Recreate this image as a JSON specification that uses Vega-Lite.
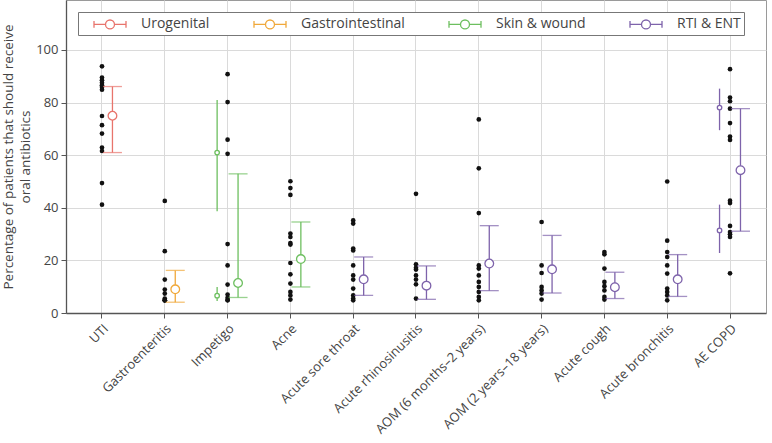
{
  "$schema": "https://vega.github.io/schema/vega-lite/v6.json",
  "width": 700,
  "height": 313,
  "padding": {"left": 1, "top": 0, "right": 2, "bottom": 0},
  "config": {
    "font": "Open Sans",
    "view": {"stroke": "#9a9a9a"},
    "axis": {
      "labelColor": "#444",
      "titleColor": "#444",
      "domainColor": "#555",
      "domainWidth": 1.3,
      "tickColor": "#555",
      "gridColor": "#dadada",
      "labelFontSize": 13,
      "titleFontSize": 13.5,
      "titleFontWeight": "normal"
    }
  },
  "datasets": {
    "dots": [
      {"condition": "UTI", "pct": 93.8}, {"condition": "UTI", "pct": 89.5}, {"condition": "UTI", "pct": 88.5}, {"condition": "UTI", "pct": 87.5}, {"condition": "UTI", "pct": 86.6}, {"condition": "UTI", "pct": 85.9}, {"condition": "UTI", "pct": 84.9}, {"condition": "UTI", "pct": 74.9}, {"condition": "UTI", "pct": 71.4}, {"condition": "UTI", "pct": 68.2}, {"condition": "UTI", "pct": 62.9}, {"condition": "UTI", "pct": 61.6}, {"condition": "UTI", "pct": 49.4}, {"condition": "UTI", "pct": 41.2},
      {"condition": "Gastroenteritis", "pct": 42.6}, {"condition": "Gastroenteritis", "pct": 23.5}, {"condition": "Gastroenteritis", "pct": 12.7}, {"condition": "Gastroenteritis", "pct": 8.9}, {"condition": "Gastroenteritis", "pct": 7.4}, {"condition": "Gastroenteritis", "pct": 5.5}, {"condition": "Gastroenteritis", "pct": 4.8}, {"condition": "Gastroenteritis", "pct": 4.8}, {"condition": "Gastroenteritis", "pct": 4.8},
      {"condition": "Impetigo", "pct": 90.8}, {"condition": "Impetigo", "pct": 80.2}, {"condition": "Impetigo", "pct": 65.9}, {"condition": "Impetigo", "pct": 60.5}, {"condition": "Impetigo", "pct": 26.2}, {"condition": "Impetigo", "pct": 18.1}, {"condition": "Impetigo", "pct": 10.8}, {"condition": "Impetigo", "pct": 7.0}, {"condition": "Impetigo", "pct": 5.8}, {"condition": "Impetigo", "pct": 4.9}, {"condition": "Impetigo", "pct": 4.8},
      {"condition": "Acne", "pct": 50.1}, {"condition": "Acne", "pct": 47.5}, {"condition": "Acne", "pct": 44.9}, {"condition": "Acne", "pct": 30.2}, {"condition": "Acne", "pct": 28.9}, {"condition": "Acne", "pct": 26.6}, {"condition": "Acne", "pct": 26.0}, {"condition": "Acne", "pct": 19.0}, {"condition": "Acne", "pct": 14.7}, {"condition": "Acne", "pct": 11.2}, {"condition": "Acne", "pct": 8.0}, {"condition": "Acne", "pct": 6.7}, {"condition": "Acne", "pct": 5.1},
      {"condition": "Acute sore throat", "pct": 35.2}, {"condition": "Acute sore throat", "pct": 34.0}, {"condition": "Acute sore throat", "pct": 24.5}, {"condition": "Acute sore throat", "pct": 23.8}, {"condition": "Acute sore throat", "pct": 18.1}, {"condition": "Acute sore throat", "pct": 14.3}, {"condition": "Acute sore throat", "pct": 12.7}, {"condition": "Acute sore throat", "pct": 9.3}, {"condition": "Acute sore throat", "pct": 6.7}, {"condition": "Acute sore throat", "pct": 5.5}, {"condition": "Acute sore throat", "pct": 4.8},
      {"condition": "Acute rhinosinusitis", "pct": 45.3}, {"condition": "Acute rhinosinusitis", "pct": 18.5}, {"condition": "Acute rhinosinusitis", "pct": 17.2}, {"condition": "Acute rhinosinusitis", "pct": 16.5}, {"condition": "Acute rhinosinusitis", "pct": 14.3}, {"condition": "Acute rhinosinusitis", "pct": 12.7}, {"condition": "Acute rhinosinusitis", "pct": 10.9}, {"condition": "Acute rhinosinusitis", "pct": 5.5},
      {"condition": "AOM (6 months–2 years)", "pct": 73.6}, {"condition": "AOM (6 months–2 years)", "pct": 55.0}, {"condition": "AOM (6 months–2 years)", "pct": 38.0}, {"condition": "AOM (6 months–2 years)", "pct": 18.1}, {"condition": "AOM (6 months–2 years)", "pct": 16.9}, {"condition": "AOM (6 months–2 years)", "pct": 14.3}, {"condition": "AOM (6 months–2 years)", "pct": 11.8}, {"condition": "AOM (6 months–2 years)", "pct": 9.9}, {"condition": "AOM (6 months–2 years)", "pct": 8.0}, {"condition": "AOM (6 months–2 years)", "pct": 6.1}, {"condition": "AOM (6 months–2 years)", "pct": 4.8},
      {"condition": "AOM (2 years–18 years)", "pct": 34.6}, {"condition": "AOM (2 years–18 years)", "pct": 18.1}, {"condition": "AOM (2 years–18 years)", "pct": 15.2}, {"condition": "AOM (2 years–18 years)", "pct": 9.9}, {"condition": "AOM (2 years–18 years)", "pct": 8.6}, {"condition": "AOM (2 years–18 years)", "pct": 7.4}, {"condition": "AOM (2 years–18 years)", "pct": 5.1},
      {"condition": "Acute cough", "pct": 23.2}, {"condition": "Acute cough", "pct": 22.3}, {"condition": "Acute cough", "pct": 16.9}, {"condition": "Acute cough", "pct": 11.8}, {"condition": "Acute cough", "pct": 10.2}, {"condition": "Acute cough", "pct": 8.6}, {"condition": "Acute cough", "pct": 6.1}, {"condition": "Acute cough", "pct": 5.1},
      {"condition": "Acute bronchitis", "pct": 50.0}, {"condition": "Acute bronchitis", "pct": 27.5}, {"condition": "Acute bronchitis", "pct": 23.2}, {"condition": "Acute bronchitis", "pct": 21.3}, {"condition": "Acute bronchitis", "pct": 18.1}, {"condition": "Acute bronchitis", "pct": 15.0}, {"condition": "Acute bronchitis", "pct": 9.3}, {"condition": "Acute bronchitis", "pct": 8.0}, {"condition": "Acute bronchitis", "pct": 6.7}, {"condition": "Acute bronchitis", "pct": 4.8},
      {"condition": "AE COPD", "pct": 92.7}, {"condition": "AE COPD", "pct": 81.9}, {"condition": "AE COPD", "pct": 80.5}, {"condition": "AE COPD", "pct": 77.7}, {"condition": "AE COPD", "pct": 72.2}, {"condition": "AE COPD", "pct": 67.1}, {"condition": "AE COPD", "pct": 65.8}, {"condition": "AE COPD", "pct": 42.7}, {"condition": "AE COPD", "pct": 41.8}, {"condition": "AE COPD", "pct": 33.1}, {"condition": "AE COPD", "pct": 30.8}, {"condition": "AE COPD", "pct": 29.9}, {"condition": "AE COPD", "pct": 28.9}, {"condition": "AE COPD", "pct": 15.1}
    ],
    "summary": [
      {"condition": "UTI", "group": "Urogenital", "kind": "pooled", "mean": 75.0, "lo": 61.0, "hi": 86.1},
      {"condition": "Gastroenteritis", "group": "Gastrointestinal", "kind": "pooled", "mean": 9.0, "lo": 4.1, "hi": 16.2},
      {"condition": "Impetigo", "group": "Skin & wound", "kind": "subgroup", "mean": 61.0, "lo": 38.7, "hi": 81.0},
      {"condition": "Impetigo", "group": "Skin & wound", "kind": "subgroup", "mean": 6.6, "lo": 4.6, "hi": 9.9},
      {"condition": "Impetigo", "group": "Skin & wound", "kind": "pooled", "mean": 11.4, "lo": 5.9, "hi": 52.9},
      {"condition": "Acne", "group": "Skin & wound", "kind": "pooled", "mean": 20.5, "lo": 9.9, "hi": 34.6},
      {"condition": "Acute sore throat", "group": "RTI & ENT", "kind": "pooled", "mean": 12.8, "lo": 6.7, "hi": 21.3},
      {"condition": "Acute rhinosinusitis", "group": "RTI & ENT", "kind": "pooled", "mean": 10.4, "lo": 5.2, "hi": 17.9},
      {"condition": "AOM (6 months–2 years)", "group": "RTI & ENT", "kind": "pooled", "mean": 18.8, "lo": 8.5, "hi": 33.2},
      {"condition": "AOM (2 years–18 years)", "group": "RTI & ENT", "kind": "pooled", "mean": 16.6, "lo": 7.6, "hi": 29.5},
      {"condition": "Acute cough", "group": "RTI & ENT", "kind": "pooled", "mean": 9.8, "lo": 5.5, "hi": 15.5},
      {"condition": "Acute bronchitis", "group": "RTI & ENT", "kind": "pooled", "mean": 12.8, "lo": 6.3, "hi": 22.2},
      {"condition": "AE COPD", "group": "RTI & ENT", "kind": "subgroup", "mean": 78.1, "lo": 69.5, "hi": 85.3},
      {"condition": "AE COPD", "group": "RTI & ENT", "kind": "subgroup", "mean": 31.4, "lo": 22.8, "hi": 41.2},
      {"condition": "AE COPD", "group": "RTI & ENT", "kind": "pooled", "mean": 54.3, "lo": 31.1, "hi": 77.7}
    ]
  },
  "encoding": {
    "x": {
      "field": "condition",
      "type": "nominal",
      "scale": {
        "type": "band",
        "domain": ["UTI", "Gastroenteritis", "Impetigo", "Acne", "Acute sore throat", "Acute rhinosinusitis", "AOM (6 months–2 years)", "AOM (2 years–18 years)", "Acute cough", "Acute bronchitis", "AE COPD"],
        "paddingInner": 0,
        "paddingOuter": 0.073
      },
      "axis": {"title": null, "labelAngle": -45, "labelFontSize": 13, "tickSize": 5, "grid": true, "labelPadding": 4}
    }
  },
  "resolve": {"scale": {"color": "independent"}, "legend": {"color": "independent"}},
  "layer": [
    {
      "data": {"name": "dots"},
      "mark": {"type": "point", "shape": "circle", "filled": true, "color": "#111", "size": 22, "opacity": 1},
      "encoding": {
        "y": {
          "field": "pct",
          "type": "quantitative",
          "scale": {"domain": [0, 119], "nice": false, "zero": true},
          "axis": {
            "title": ["Percentage of patients that should receive", "oral antibiotics"],
            "titleLineHeight": 17,
            "titlePadding": 3,
            "values": [0, 10, 20, 30, 40, 50, 60, 70, 80, 90, 100, 110],
            "labelExpr": "datum.value % 20 == 0 && datum.value <= 100 ? datum.label : ''",
            "tickOpacity": {"condition": {"test": "datum.value % 20 == 0 && datum.value <= 100", "value": 1}, "value": 0},
            "tickSize": 5,
            "labelPadding": 3,
            "grid": true
          }
        }
      }
    },
    {
      "data": {"name": "summary"},
      "mark": {"type": "rule", "strokeWidth": 1.3},
      "encoding": {
        "xOffset": {"field": "kind", "type": "nominal", "scale": {"type": "point", "domain": ["subgroup", "pooled"], "padding": 1.0}},
        "y": {"field": "lo", "type": "quantitative"},
        "y2": {"field": "hi"},
        "color": {"field": "group", "type": "nominal", "legend": null, "scale": {"domain": ["Urogenital", "Gastrointestinal", "Skin & wound", "RTI & ENT"], "range": ["#E8746C", "#F0A83A", "#6DBF5F", "#7E63AB"]}}
      }
    },
    {
      "data": {"name": "summary"},
      "transform": [{"filter": "datum.kind == 'pooled'"}],
      "mark": {"type": "tick", "orient": "horizontal", "size": 19, "thickness": 1.3},
      "encoding": {
        "xOffset": {"field": "kind", "type": "nominal"},
        "y": {"field": "lo", "type": "quantitative"},
        "color": {"field": "group", "type": "nominal", "legend": null, "scale": {"domain": ["Urogenital", "Gastrointestinal", "Skin & wound", "RTI & ENT"], "range": ["#E8746C", "#F0A83A", "#6DBF5F", "#7E63AB"]}}
      }
    },
    {
      "data": {"name": "summary"},
      "transform": [{"filter": "datum.kind == 'pooled'"}],
      "mark": {"type": "tick", "orient": "horizontal", "size": 19, "thickness": 1.3},
      "encoding": {
        "xOffset": {"field": "kind", "type": "nominal"},
        "y": {"field": "hi", "type": "quantitative"},
        "color": {"field": "group", "type": "nominal", "legend": null, "scale": {"domain": ["Urogenital", "Gastrointestinal", "Skin & wound", "RTI & ENT"], "range": ["#E8746C", "#F0A83A", "#6DBF5F", "#7E63AB"]}}
      }
    },
    {
      "data": {"name": "summary"},
      "mark": {"type": "point", "shape": "circle", "filled": false, "fill": "white", "fillOpacity": 1, "strokeWidth": 1.3, "opacity": 1},
      "encoding": {
        "xOffset": {"field": "kind", "type": "nominal"},
        "y": {"field": "mean", "type": "quantitative"},
        "size": {"field": "kind", "type": "nominal", "scale": {"domain": ["subgroup", "pooled"], "range": [20, 75]}, "legend": null},
        "color": {
          "field": "group",
          "type": "nominal",
          "scale": {"domain": ["Urogenital", "Gastrointestinal", "Skin & wound", "RTI & ENT"], "range": ["#E8746C", "#F0A83A", "#6DBF5F", "#7E63AB"]},
          "legend": {
            "title": null,
            "orient": "top-left",
            "offset": 12,
            "direction": "horizontal",
            "symbolType": "M-2,-0.42L-2,0.42M-2,0L-0.56,0M0.56,0L2,0M2,-0.42L2,0.42M-0.56,0A0.56,0.56,0,1,1,0.56,0A0.56,0.56,0,1,1,-0.56,0",
            "symbolSize": 256,
            "symbolOffset": 20,
            "symbolFillColor": "white",
            "symbolOpacity": 1,
            "symbolStrokeWidth": 1.3,
            "labelFontSize": 14,
            "labelColor": "#444",
            "labelOffset": 22,
            "columnPadding": 31,
            "padding": 3,
            "strokeColor": "#777",
            "fillColor": "white",
            "encode": {"symbols": {"update": {"fill": {"value": "white"}, "fillOpacity": {"value": 1}, "opacity": {"value": 1}}}}
          }
        }
      }
    }
  ]
}
